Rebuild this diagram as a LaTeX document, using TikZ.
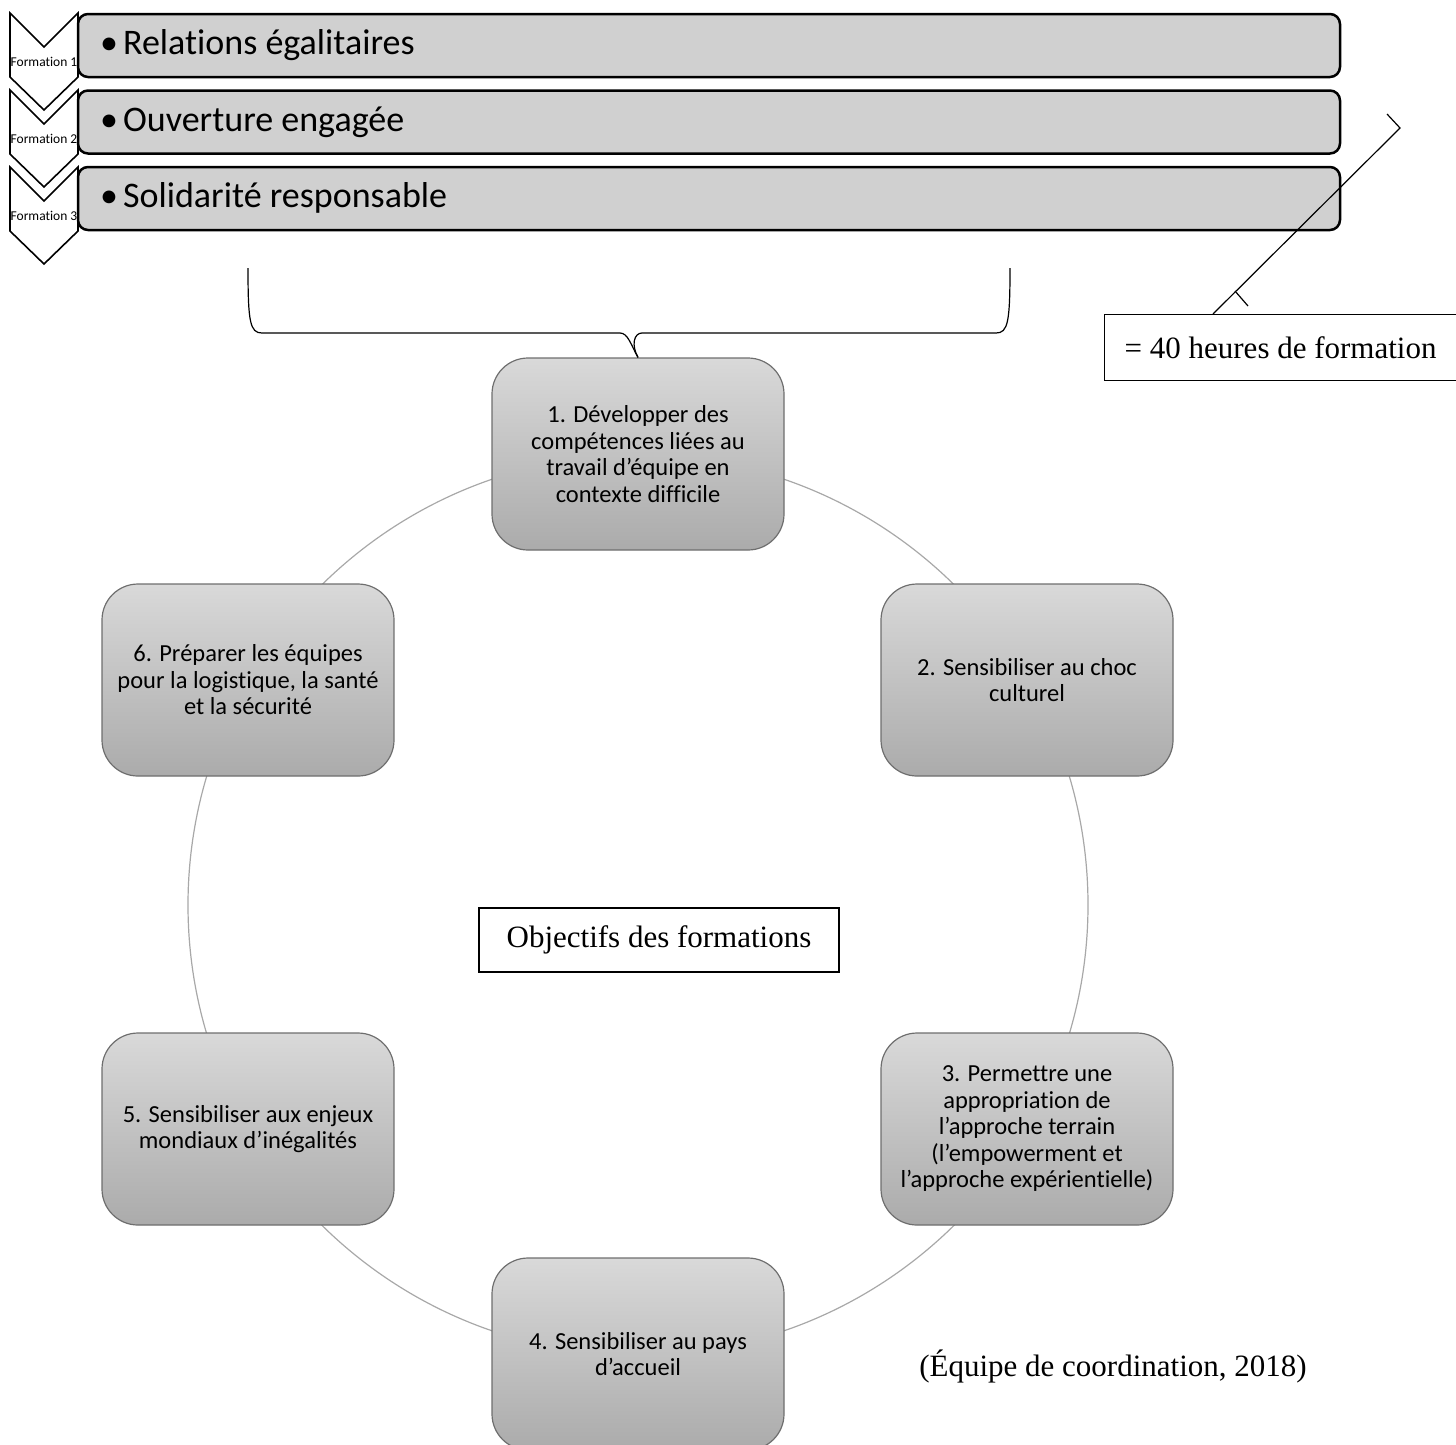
\documentclass[tikz,border=0pt]{standalone}
\usepackage{fontspec}
\setmainfont{Liberation Serif}
\newfontfamily\calib{Carlito}[Ligatures=CommonOff]
\definecolor{barfill}{HTML}{D0D0D0}
\definecolor{objtop}{HTML}{D9D9D9}
\definecolor{objbot}{HTML}{ABABAB}
\definecolor{objborder}{HTML}{6E6E6E}
\definecolor{ringcol}{HTML}{A8A8A8}
\tikzset{
  bar/.style={draw=black, line width=2.5pt, fill=barfill, rounded corners=10pt,
    minimum width=1262pt, minimum height=63pt, inner sep=0pt},
  chev/.style={draw=black, line width=1.6pt, fill=white, line join=miter},
  chevtext/.style={inner sep=0pt, font=\calib\fontsize{13.5}{15}\selectfont},
  bartext/.style={anchor=west, inner sep=0pt, font=\calib\fontsize{36}{40}\selectfont},
  obj/.style={draw=objborder, line width=1.2pt, rounded corners=36pt,
    top color=objtop, bottom color=objbot, minimum width=292pt, minimum height=192pt,
    align=center, inner sep=2pt, font=\calib\fontsize{24.5}{26.5}\selectfont},
  plainbox/.style={draw=black, line width=1.2pt, fill=white, inner sep=0pt},
  serif/.style={font=\fontsize{31}{35}\selectfont}
}
\begin{document}
\begin{tikzpicture}[x=1pt, y=-1pt]
\useasboundingbox (0,0) rectangle (1456,1444);
% chevrons
\foreach \t/\k in {13/1, 90/2, 167/3}{
  \draw[chev] (10,\t) -- (44,\t+34) -- (78,\t) -- (78,\t+64) -- (44,\t+97) -- (10,\t+64) -- cycle;
  \node[chevtext] (f\k) at (44,\t+49) {Formation \k};
}
% bars
\node[bar] (b1) at (709,45.5) {};
\node[bar] (b2) at (709,122) {};
\node[bar] (b3) at (709,198.5) {};
\node[bartext] (t1) at (100,45) {•\hspace{5pt}Relations égalitaires};
\node[bartext] (t2) at (100,122) {•\hspace{5pt}Ouverture engagée};
\node[bartext] (t3) at (100,198) {•\hspace{5pt}Solidarité responsable};
% ring
\draw[ringcol, line width=1.2pt] (638,905) circle[radius=450pt];
% objective nodes
\node[obj] (n1) at (638,454) {1. Développer des\\compétences liées au\\travail d’équipe en\\contexte difficile};
\node[obj] (n2) at (1027,680) {2. Sensibiliser au choc\\culturel};
\node[obj] (n3) at (1027,1129) {3. Permettre une\\appropriation de\\l’approche terrain\\(l’empowerment et\\l’approche expérientielle)};
\node[obj] (n4) at (638,1354) {4. Sensibiliser au pays\\d’accueil};
\node[obj] (n5) at (248,1129) {5. Sensibiliser aux enjeux\\mondiaux d’inégalités};
\node[obj] (n6) at (248,680) {6. Préparer les équipes\\pour la logistique, la santé\\et la sécurité};
% brace
\draw[black, line width=1.2pt] (248,268) .. controls (248,322) and (250,333) .. (262,333) -- (620,333)
   .. controls (628,333) and (631,345) .. (n1.north);
\draw[black, line width=1.2pt] (n1.north) .. controls (631,345) and (634,333) .. (642,333) -- (996,333)
   .. controls (1008,333) and (1010,322) .. (1010,268);
% callout box
\node[plainbox, serif, minimum width=352pt, minimum height=66pt, anchor=north west] (h40) at (1104,314) {= 40 heures de formation};
\coordinate (c1) at (1387,114);
\coordinate (c2) at (1400,128);
\coordinate (c3) at (1213,314);
\coordinate (k1) at (1235,291);
\coordinate (k2) at (1248,306);
\draw[black, line width=1.2pt] (c1) -- (c2) -- (c3);
\draw[black, line width=1.2pt] (k1) -- (k2);
% center label
\node[plainbox, serif, minimum width=360pt, minimum height=64pt] (obj) at (659,940) {Objectifs des formations};
% source
\node[serif, inner sep=0pt] (src) at (1113,1366) {(Équipe de coordination, 2018)};
\end{tikzpicture}
\end{document}
